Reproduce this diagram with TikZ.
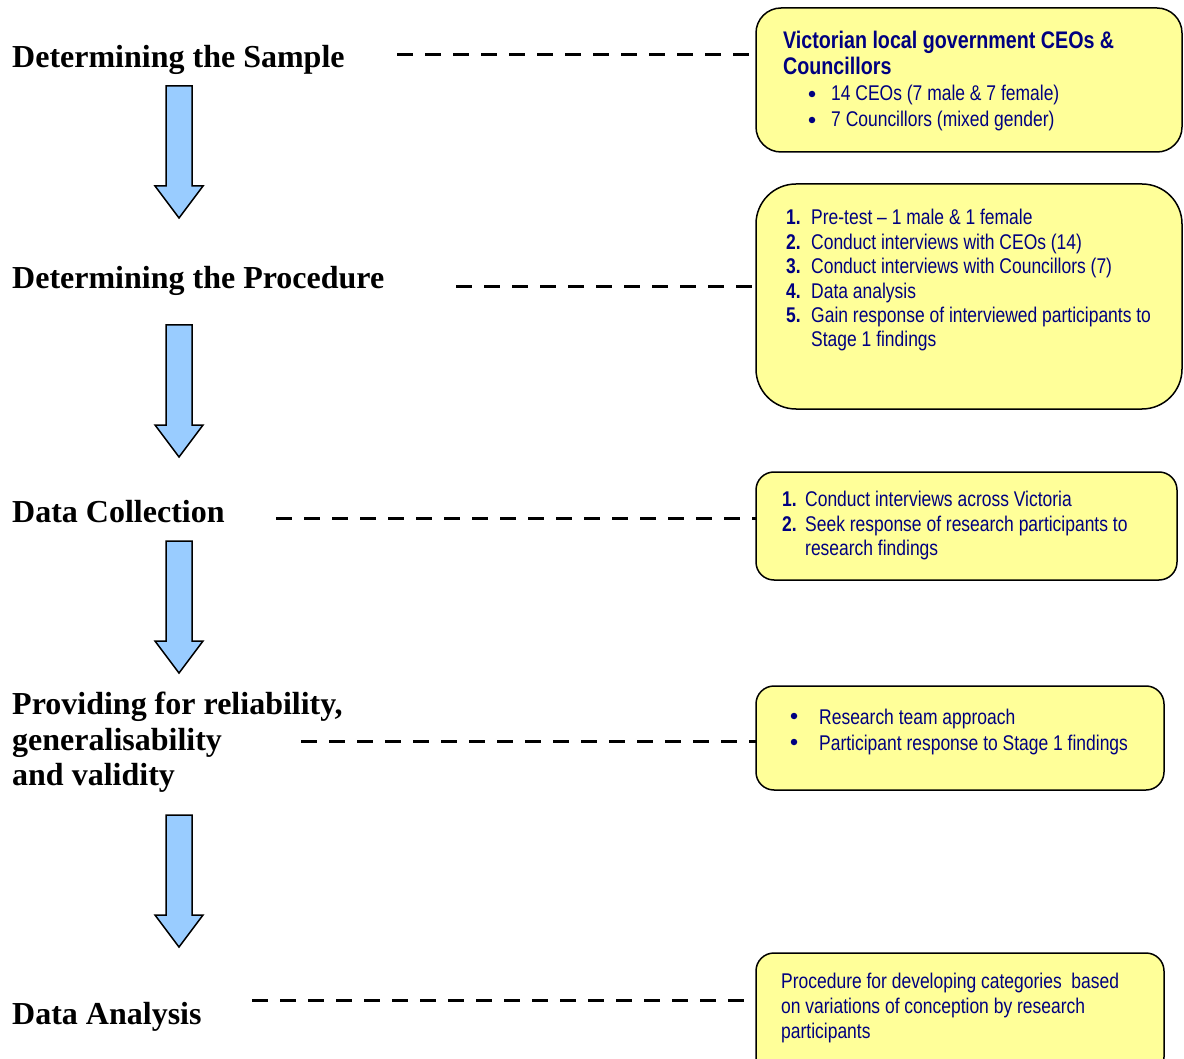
\documentclass[tikz,border=0pt]{standalone}
\usepackage{fontspec}
\setmainfont{Liberation Serif}
\newfontfamily\narrowfont[FakeStretch=0.82]{Liberation Sans}
\definecolor{boxfill}{HTML}{FFFF99}
\definecolor{arrowfill}{HTML}{99CCFF}
\definecolor{navytext}{HTML}{000080}
\tikzset{
  downarrow/.pic={\draw[blockarrow] (-13,0) -- (13,0) -- (13,100) -- (24,100) -- (0,132) -- (-24,100) -- (-13,100) -- cycle;}
}
\begin{document}
\begin{tikzpicture}[x=1pt,y=-1pt,
  heading/.style={anchor=base west, inner sep=0pt, font=\fontsize{32}{37}\selectfont\bfseries},
  boxtext/.style={anchor=base west, inner sep=0pt, text=navytext, font=\narrowfont\fontsize{21.3}{25}\selectfont},
  boxhead/.style={anchor=base west, inner sep=0pt, text=navytext, font=\narrowfont\bfseries\fontsize{24}{26}\selectfont},
  numtext/.style={anchor=base west, inner sep=0pt, text=navytext, font=\narrowfont\bfseries\fontsize{21.3}{25}\selectfont},
  bulletdot/.style={circle, fill=navytext, inner sep=0pt, minimum size=6.5pt},
  yellowbox/.style={draw=black, line width=1.5pt, fill=boxfill, anchor=north west, inner sep=0pt, outer sep=0pt},
  dashline/.style={line width=3pt, dash pattern=on 16pt off 12pt},
  blockarrow/.style={draw=black, line width=1.5pt, fill=arrowfill, line join=miter}
]
\useasboundingbox (0,0) rectangle (1184,1059);

% headings
\node[heading] (h1) at (12,68) {Determining the Sample};
\node[heading] (h2) at (12,289) {Determining the Procedure};
\node[heading] (h3) at (12,522) {Data Collection};
\node[heading] (h4a) at (12,714) {Providing for reliability,};
\node[heading] (h4b) at (12,750) {generalisability};
\node[heading] (h4c) at (12,785) {and validity};
\node[heading] (h5) at (12,1024) {Data Analysis};

% arrows
\pic at (179,86) {downarrow};
\pic at (179,325) {downarrow};
\pic at (179,541) {downarrow};
\pic at (179,815) {downarrow};

% boxes
\node[yellowbox, rounded corners=25pt, minimum width=426pt, minimum height=144pt] (b1) at (756,8) {};
\node[yellowbox, rounded corners=40pt, minimum width=426pt, minimum height=225pt] (b2) at (756,184) {};
\node[yellowbox, rounded corners=18pt, minimum width=421pt, minimum height=108pt] (b3) at (756,472) {};
\node[yellowbox, rounded corners=18pt, minimum width=408pt, minimum height=104pt] (b4) at (756,686) {};
\node[yellowbox, rounded corners=18pt, minimum width=408pt, minimum height=122pt] (b5) at (756,953) {};

% dashed connectors
\coordinate (s1) at (397,55);
\coordinate (s2) at (456,287);
\coordinate (s3) at (276,518);
\coordinate (s4) at (301,741);
\coordinate (s5) at (252,1000);
\draw[dashline] (s1) -- (s1 -| b1.west);
\draw[dashline] (s2) -- (s2 -| b2.west);
\draw[dashline] (s3) -- (s3 -| b3.west);
\draw[dashline] (s4) -- (s4 -| b4.west);
\draw[dashline] (s5) -- (s5 -| b5.west);

% box 1
\node[boxhead] (t1a) at (783,49) {Victorian local government CEOs \&};
\node[boxhead] (t1b) at (783,75) {Councillors};
\node[bulletdot] (u1a) at (812,94) {};
\node[boxtext] (t1c) at (831,101) {14 CEOs (7 male \& 7 female)};
\node[bulletdot] (u1b) at (812,120) {};
\node[boxtext] (t1d) at (831,127) {7 Councillors (mixed gender)};

% box 2
\node[numtext] (n2a) at (786,225) {1.};
\node[boxtext] (t2a) at (811,225) {Pre-test – 1 male \& 1 female};
\node[numtext] (n2b) at (786,250) {2.};
\node[boxtext] (t2b) at (811,250) {Conduct interviews with CEOs (14)};
\node[numtext] (n2c) at (786,274) {3.};
\node[boxtext] (t2c) at (811,274) {Conduct interviews with Councillors (7)};
\node[numtext] (n2d) at (786,299) {4.};
\node[boxtext] (t2d) at (811,299) {Data analysis};
\node[numtext] (n2e) at (786,323) {5.};
\node[boxtext] (t2e) at (811,323) {Gain response of interviewed participants to};
\node[boxtext] (t2f) at (811,347) {Stage 1 findings};

% box 3
\node[numtext] (n3a) at (782,506) {1.};
\node[boxtext] (t3a) at (805,506) {Conduct interviews across Victoria};
\node[numtext] (n3b) at (782,531) {2.};
\node[boxtext] (t3b) at (805,531) {Seek response of research participants to};
\node[boxtext] (t3c) at (805,555) {research findings};

% box 4
\node[bulletdot] (u4a) at (794,716) {};
\node[boxtext] (t4a) at (819,724) {Research team approach};
\node[bulletdot] (u4b) at (794,742) {};
\node[boxtext] (t4b) at (819,750) {Participant response to Stage 1 findings};

% box 5
\node[boxtext] (t5a) at (781,988) {Procedure for developing categories\ \ based};
\node[boxtext] (t5b) at (781,1013) {on variations of conception by research};
\node[boxtext] (t5c) at (781,1038) {participants};
\end{tikzpicture}
\end{document}
